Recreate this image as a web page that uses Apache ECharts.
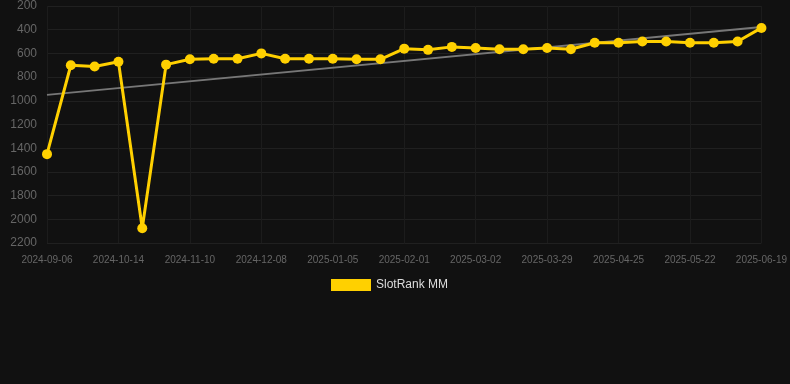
<!DOCTYPE html>
<html><head><meta charset="utf-8">
<script src="https://cdn.jsdelivr.net/npm/echarts@6/dist/echarts.min.js"></script>
<style>html,body{margin:0;padding:0;background:#111111;}#c{width:790px;height:384px;}</style>
</head><body><div id="c"></div>
<script>
var dates = ["2024-09-06","2024-09-19","2024-10-01","2024-10-14","2024-10-23","2024-11-01","2024-11-10","2024-11-20","2024-11-29","2024-12-08","2024-12-17","2024-12-27","2025-01-05","2025-01-14","2025-01-23","2025-02-01","2025-02-11","2025-02-20","2025-03-02","2025-03-11","2025-03-20","2025-03-29","2025-04-07","2025-04-16","2025-04-25","2025-05-04","2025-05-13","2025-05-22","2025-05-31","2025-06-09","2025-06-19"];
var rankValues = [1450,700,710,670,2075,695,650,645,645,600,645,645,645,650,650,560,570,545,555,565,565,555,565,510,510,500,500,510,510,500,385];
var trendValues = [950,null,null,null,null,null,null,null,null,null,null,null,null,null,null,null,null,null,null,null,null,null,null,null,null,null,null,null,null,null,378];
var yTicks = [200,2200,200]; // min, max, interval

var chart = echarts.init(document.getElementById('c'));
chart.setOption({
  backgroundColor: '#111111',
  animation: false,
  grid: {left: 47, right: 28, top: 6, bottom: 141},
  legend: {
    data: ['SlotRank MM'],
    top: 274,
    left: 326,
    itemWidth: 40, itemHeight: 12,
    itemGap: 6,
    icon: 'rect',
    textStyle: {color: '#dddddd', fontSize: 12}
  },
  xAxis: {
    type: 'category',
    data: dates,
    boundaryGap: false,
    axisLine: {show: false},
    axisTick: {show: false},
    axisLabel: {interval: 2, color: '#666666', fontSize: 10, margin: 12},
    splitLine: {show: true, interval: 2, lineStyle: {color: '#1c1c1c', width: 1}}
  },
  yAxis: {
    type: 'value',
    inverse: true,
    min: yTicks[0], max: yTicks[1], interval: yTicks[2],
    axisLine: {show: false},
    axisTick: {show: false},
    axisLabel: {color: '#666666', fontSize: 12, margin: 10, formatter: function (v) { return String(v); }},
    splitLine: {lineStyle: {color: '#202020', width: 1}}
  },
  series: [
    {
      name: 'Trend',
      type: 'line',
      data: trendValues,
      connectNulls: true,
      symbol: 'none',
      lineStyle: {color: '#777777', width: 2},
      z: 1
    },
    {
      name: 'SlotRank MM',
      type: 'line',
      data: rankValues,
      symbol: 'circle',
      symbolSize: 10,
      itemStyle: {color: '#FFD000'},
      lineStyle: {color: '#FFD000', width: 3},
      z: 2
    }
  ]
});
</script></body></html>
